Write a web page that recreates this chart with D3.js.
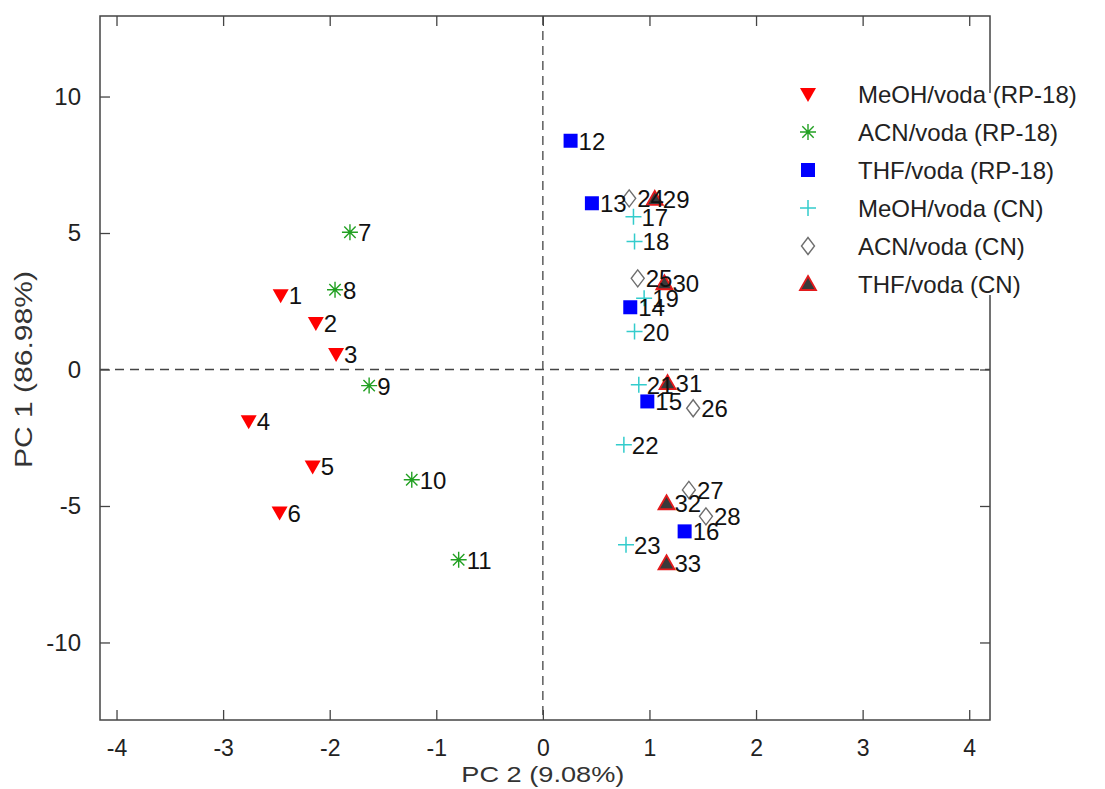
<!DOCTYPE html>
<html><head><meta charset="utf-8">
<script src="https://cdn.jsdelivr.net/npm/d3@7"></script>
<style>body{margin:0;background:#fff;} svg{display:block;font-family:"Liberation Sans",Arial,sans-serif;}</style>
</head><body><svg id="c" width="1105" height="789"></svg>
<script>
// ---- data ----
const seriesNames = ["MeOH/voda (RP-18)","ACN/voda (RP-18)","THF/voda (RP-18)","MeOH/voda (CN)","ACN/voda (CN)","THF/voda (CN)"];
const labels1 = ["1","2","3","4","5","6"];
const pc2_1 = [-2.46,-2.13,-1.94,-2.76,-2.16,-2.47];
const pc1_1 = [2.72,1.70,0.57,-1.90,-3.55,-5.24];
const labels2 = ["7","8","9","10","11"];
const pc2_2 = [-1.81,-1.95,-1.63,-1.23,-0.79];
const pc1_2 = [5.03,2.92,-0.59,-4.04,-6.97];
const labels3 = ["12","13","14","15","16"];
const pc2_3 = [0.26,0.46,0.82,0.98,1.33];
const pc1_3 = [8.38,6.09,2.28,-1.17,-5.93];
const labels4 = ["17","18","19","20","21","22","23"];
const pc2_4 = [0.85,0.86,0.95,0.86,0.90,0.76,0.78];
const pc1_4 = [5.60,4.69,2.61,1.39,-0.56,-2.76,-6.42];
const labels5 = ["24","25","26","27","28"];
const pc2_5 = [0.81,0.89,1.41,1.37,1.53];
const pc1_5 = [6.27,3.34,-1.42,-4.41,-5.38];
const labels6 = ["29","30","31","32","33"];
const pc2_6 = [1.05,1.14,1.17,1.16,1.16];
const pc1_6 = [6.25,3.16,-0.50,-4.90,-7.10];
const xTicks = [-4,-3,-2,-1,0,1,2,3,4];
const yTicks = [-10,-5,0,5,10];
const xTitle = "PC 2 (9.08%)";
const yTitle = "PC 1 (86.98%)";

const groups = [
  [labels1,pc2_1,pc1_1],[labels2,pc2_2,pc1_2],[labels3,pc2_3,pc1_3],
  [labels4,pc2_4,pc1_4],[labels5,pc2_5,pc1_5],[labels6,pc2_6,pc1_6]
].map((g,gi)=>g[0].map((l,i)=>({label:l,x:g[1][i],y:g[2][i],g:gi})));
const points = groups.flat();

// ---- layout ----
const L=100,R=990,T=16,B=720;
const svg=d3.select("#c");
const x=d3.scaleLinear().domain([-4.155,4.195]).range([L,R]);
const y=d3.scaleLinear().domain([-12.84,12.95]).range([B,T]);

// marker drawers
function drawMarker(sel,g){
  if(g===0){ sel.append("path").attr("d","M-8,-6L8,-6L0,8Z").attr("fill","#ff0000"); }
  else if(g===1){ const r=8,d=5.7;
    sel.append("path").attr("d",`M${-r},0L${r},0M0,${-r}L0,${r}M${-d},${-d}L${d},${d}M${-d},${d}L${d},${-d}`)
      .attr("stroke","#22a022").attr("stroke-width",1.4).attr("fill","none"); }
  else if(g===2){ sel.append("rect").attr("x",-7).attr("y",-7).attr("width",14).attr("height",14).attr("fill","#0000ff"); }
  else if(g===3){ sel.append("path").attr("d","M-8,0L8,0M0,-8L0,8").attr("stroke","#33cccc").attr("stroke-width",1.5).attr("fill","none"); }
  else if(g===4){ sel.append("path").attr("d","M0,-8.5L6.5,0L0,8.5L-6.5,0Z").attr("stroke","#6e6e6e").attr("stroke-width",1.4).attr("fill","#fff"); }
  else { sel.append("path").attr("d","M0,-8L8,6L-8,6Z").attr("fill","#3a3a3a").attr("stroke","#e31a1c").attr("stroke-width",1.8).attr("stroke-linejoin","miter"); }
}

// frame
svg.append("rect").attr("x",L).attr("y",T).attr("width",R-L).attr("height",B-T)
  .attr("fill","none").attr("stroke","#444").attr("stroke-width",1.5);

// zero lines
svg.append("line").attr("x1",x(0)).attr("x2",x(0)).attr("y1",T).attr("y2",B)
  .attr("stroke","#444").attr("stroke-width",1.3).attr("stroke-dasharray","9,6");
svg.append("line").attr("x1",L).attr("x2",R).attr("y1",y(0)).attr("y2",y(0))
  .attr("stroke","#444").attr("stroke-width",1.3).attr("stroke-dasharray","9,6");

// axes (inward ticks)
const fmt=d=>String(d);
const axB=svg.append("g").attr("transform",`translate(0,${B})`).call(d3.axisBottom(x).tickValues(xTicks).tickSize(-10).tickPadding(20).tickFormat(fmt));
const axT=svg.append("g").attr("transform",`translate(0,${T})`).call(d3.axisTop(x).tickValues(xTicks).tickSize(-10).tickFormat(""));
const axL=svg.append("g").attr("transform",`translate(${L},0)`).call(d3.axisLeft(y).tickValues(yTicks).tickSize(-10).tickPadding(19).tickFormat(fmt));
const axR=svg.append("g").attr("transform",`translate(${R},0)`).call(d3.axisRight(y).tickValues(yTicks).tickSize(-10).tickFormat(""));
[axB,axT,axL,axR].forEach(a=>{a.select(".domain").remove();a.selectAll(".tick line").attr("stroke","#444").attr("stroke-width",1.3);
  a.selectAll("text").attr("font-size",24).attr("fill","#222").attr("font-family","Liberation Sans, Arial, sans-serif");});
axB.selectAll("text").attr("font-size",23);

// titles
svg.append("text").attr("x",x(0)).attr("y",782).attr("text-anchor","middle").attr("font-size",22)
  .attr("textLength",163).attr("lengthAdjust","spacingAndGlyphs").attr("fill","#333").text(xTitle);
svg.append("text").attr("transform",`translate(32,${y(0)}) rotate(-90)`).attr("text-anchor","middle").attr("font-size",23)
  .attr("textLength",197).attr("lengthAdjust","spacingAndGlyphs").attr("fill","#333").text(yTitle);

// markers
const mk=svg.append("g");
points.forEach(p=>{ const g=mk.append("g").attr("transform",`translate(${x(p.x)},${y(p.y)})`); drawMarker(g,p.g); });
// labels
svg.append("g").selectAll("text").data(points).join("text")
  .attr("x",d=>x(d.x)+8).attr("y",d=>y(d.y)+9).attr("font-size",24).attr("fill","#111").text(d=>d.label);

// legend
const lg=svg.append("g");
lg.append("rect").attr("x",785).attr("y",93).attr("width",300).attr("height",202).attr("fill","#fff");
const legY=[94,132,170,208,246,284];
seriesNames.forEach((n,i)=>{
  const g=lg.append("g").attr("transform",`translate(808,${legY[i]})`);
  drawMarker(g,i);
  lg.append("text").attr("x",858).attr("y",legY[i]+8.5).attr("font-size",24).attr("fill","#222").text(n);
});
</script></body></html>
